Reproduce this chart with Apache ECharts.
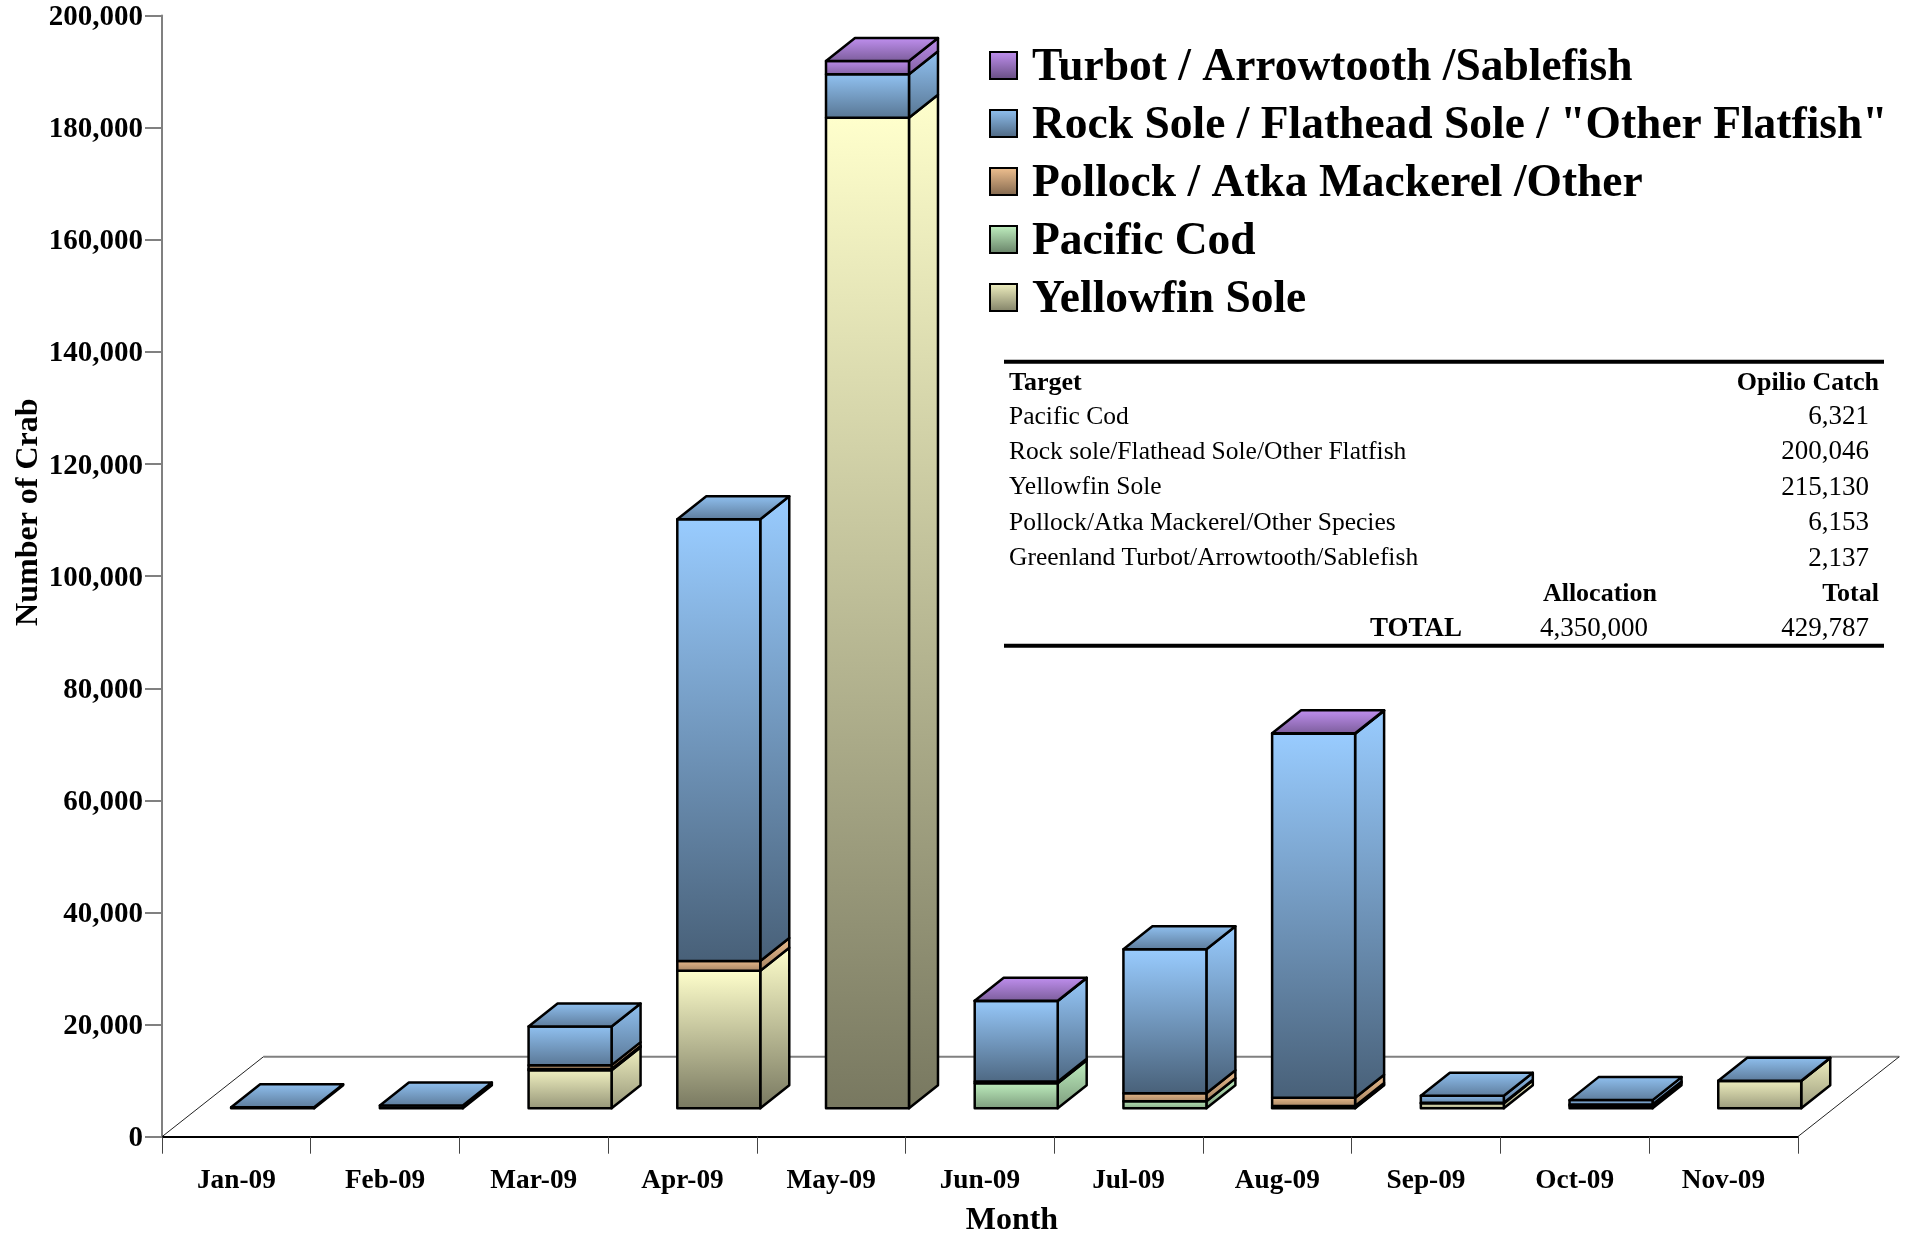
<!DOCTYPE html>
<html>
<head>
<meta charset="utf-8">
<style>html,body{margin:0;padding:0;background:#fff}#c{width:1907px;height:1233px}</style>
<script src="https://cdn.jsdelivr.net/npm/echarts@6/dist/echarts.min.js"></script>
</head>
<body>
<div id="c"></div>
<script>
const categories = ['Jan-09','Feb-09','Mar-09','Apr-09','May-09','Jun-09','Jul-09','Aug-09','Sep-09','Oct-09','Nov-09'];
const seriesNames = ['Yellowfin Sole','Pacific Cod','Pollock / Atka Mackerel /Other','Rock Sole / Flathead Sole / "Other Flatfish"','Turbot / Arrowtooth /Sablefish'];
const yellowfin = [0,0,6800,24550,176720,0,0,100,900,460,4880];
const pacificCod = [0,0,200,0,0,4460,1250,300,0,0,0];
const pollock = [0,0,700,1730,0,300,1426,1500,100,200,0];
const rockSole = [200,500,6900,78790,7750,14400,25690,64900,1250,800,50];
const turbot = [0,0,0,0,2370,40,0,100,0,0,0];
const seriesValues = [yellowfin,pacificCod,pollock,rockSole,turbot];
const tableTargets = ['Pacific Cod','Rock sole/Flathead Sole/Other Flatfish','Yellowfin Sole','Pollock/Atka Mackerel/Other Species','Greenland Turbot/Arrowtooth/Sablefish'];
const tableCatch = ['6,321','200,046','215,130','6,153','2,137'];

const SERIF = '"Liberation Serif","Times New Roman",serif';
const lightColors = [[255,255,204],[204,255,204],[255,204,153],[153,204,255],[204,153,255]];
const DEPTH_X = 29, DEPTH_Y = -23, FRONT_X = 36.3, FRONT_Y = -28.4, FLOOR_X = 101.5, FLOOR_Y = -80;

function shade(c,f){return 'rgb('+c.map(v=>Math.round(v*f)).join(',')+')';}
function grad(c,a,b){return {type:'linear',x:0,y:0,x2:0,y2:1,colorStops:[{offset:0,color:shade(c,a)},{offset:1,color:shade(c,b)}]};}

function segmentRenderer(si){
  const c = lightColors[si];
  return function(params,api){
    const i = api.value(0), v0 = api.value(1), v1 = api.value(2), isTop = api.value(3);
    if(v1<=v0) return null;
    const w = api.size([1,0])[0]*0.558;
    const p0 = api.coord([i,v0]), p1 = api.coord([i,v1]);
    const l = p0[0]+FRONT_X-w/2, r = l+w, b = p0[1]+FRONT_Y, t = p1[1]+FRONT_Y;
    const h = b-t, k = Math.min(1,h/100);
    const fa = 1-0.08*(1-k), fb = 0.47+0.18*(1-k);
    const line = {stroke:'#000',lineWidth:2.5,lineJoin:'round'};
    const children = [
      {type:'polygon',shape:{points:[[r,b],[r+DEPTH_X,b+DEPTH_Y],[r+DEPTH_X,t+DEPTH_Y],[r,t]]},style:Object.assign({fill:grad(c,fa,fb)},line)},
      {type:'polygon',shape:{points:[[l,b],[r,b],[r,t],[l,t]]},style:Object.assign({fill:grad(c,fa,fb)},line)}
    ];
    if(isTop){
      children.push({type:'polygon',shape:{points:[[l,t],[r,t],[r+DEPTH_X,t+DEPTH_Y],[l+DEPTH_X,t+DEPTH_Y]]},style:Object.assign({fill:grad(c,0.95,0.6)},line)});
    }
    return {type:'group',children:children};
  };
}
function floorRenderer(params,api){
  const o = api.coord([0,0]), s = params.coordSys, x0 = s.x, x1 = s.x+s.width, y = o[1];
  return {type:'group',children:[
    {type:'line',shape:{x1:x0+FLOOR_X,y1:y+FLOOR_Y,x2:x1+FLOOR_X,y2:y+FLOOR_Y},style:{stroke:'#808080',lineWidth:2}},
    {type:'line',shape:{x1:x0,y1:y,x2:x0+FLOOR_X,y2:y+FLOOR_Y},style:{stroke:'#222',lineWidth:1}},
    {type:'line',shape:{x1:x1,y1:y,x2:x1+FLOOR_X,y2:y+FLOOR_Y},style:{stroke:'#222',lineWidth:1}}
  ]};
}

const running = categories.map(()=>0);
const series = [{type:'custom',name:'floor',renderItem:floorRenderer,data:[[0,0]],encode:{x:0,y:1},silent:true,clip:false,z:1}];
seriesValues.forEach((vals,si)=>{
  const data = vals.map((v,i)=>{
    const base = running[i]; running[i] += v;
    const above = seriesValues.slice(si+1).some(a=>a[i]>0);
    return [i,base,base+v,above?0:1];
  });
  series.push({type:'custom',name:seriesNames[si],renderItem:segmentRenderer(si),data:data,encode:{x:0,y:2},clip:false,silent:true,z:2,
    itemStyle:{color:shade(lightColors[si],0.8)}});
});

const ROW0 = 381.7, PITCH = 35.35;
function tx(text,x,row,align,font,dy){return {type:'text',z:10,style:{text:text,x:x,y:ROW0+PITCH*row+(dy||0),textAlign:align,textVerticalAlign:'middle',font:font+' '+SERIF,fill:'#000'}};}
const HEAD='bold 26px', BODY='25.5px', NUM='27px';
const graphicEls = [
  {type:'line',z:10,shape:{x1:1004,y1:361.7,x2:1884,y2:361.7},style:{stroke:'#000',lineWidth:4}},
  {type:'line',z:10,shape:{x1:1004,y1:645.7,x2:1884,y2:645.7},style:{stroke:'#000',lineWidth:4}},
  tx('Target',1009,0,'left',HEAD,2),
  tx('Opilio Catch',1879,0,'right',HEAD,2),
  tx('Allocation',1657,6,'right',HEAD),
  tx('Total',1879,6,'right',HEAD),
  tx('TOTAL',1462,7,'right','bold 27px'),
  tx('4,350,000',1648,7,'right',NUM),
  tx('429,787',1869,7,'right',NUM)
];
tableTargets.forEach((n,i)=>{graphicEls.push(tx(n,1009,i+1,'left',BODY));graphicEls.push(tx(tableCatch[i],1869,i+1,'right',NUM));});

const legendData = seriesNames.map((n,i)=>({name:n,icon:'rect',itemStyle:{color:grad(lightColors[i],0.95,0.5),borderColor:'#000',borderWidth:2}})).reverse();

const chart = echarts.init(document.getElementById('c'),null,{renderer:'canvas',width:1907,height:1233});
chart.setOption({
  animation:false,
  backgroundColor:'#fff',
  grid:{left:162,right:109.2,top:15.6,bottom:96.3,containLabel:false,outerBoundsMode:'none'},
  legend:{show:true,orient:'vertical',left:989,top:39.5,padding:0,itemWidth:27,itemHeight:27,itemGap:6,selectedMode:false,
    data:legendData,
    formatter:n=>'{a|'+n+'}',
    textStyle:{fontFamily:SERIF,fontWeight:'bold',fontSize:45.5,color:'#000',
      rich:{a:{fontFamily:SERIF,fontWeight:'bold',fontSize:45.5,color:'#000',padding:[6,0,0,10],lineHeight:42}}}},
  xAxis:{type:'category',data:categories,boundaryGap:true,
    name:'Month',nameLocation:'middle',nameGap:68,
    nameTextStyle:{fontFamily:SERIF,fontWeight:'bold',fontSize:32,color:'#000',padding:[0,0,0,64]},
    axisLine:{show:true,onZero:false,lineStyle:{color:'#000',width:2}},
    axisTick:{show:true,alignWithLabel:false,length:17,lineStyle:{color:'#444',width:1}},
    axisLabel:{fontFamily:SERIF,fontWeight:'bold',fontSize:27.3,color:'#000',margin:30.5,interval:0},
    splitLine:{show:false}},
  yAxis:{type:'value',min:0,max:200000,interval:20000,
    name:'Number of Crab',nameLocation:'middle',nameGap:117,nameRotate:90,nameMoveOverlap:false,
    nameTextStyle:{fontFamily:SERIF,fontWeight:'bold',fontSize:32,color:'#000',padding:[0,0,0,128]},
    axisLine:{show:true,lineStyle:{color:'#808080',width:2}},
    axisTick:{show:true,length:17,lineStyle:{color:'#808080',width:2}},
    axisLabel:{fontFamily:SERIF,fontWeight:'bold',fontSize:29,color:'#000',margin:19,formatter:v=>'{n|'+v.toLocaleString('en-US')+'}',
      rich:{n:{fontFamily:SERIF,fontWeight:'bold',fontSize:29,color:'#000',padding:[4,0,0,0]}}},
    splitLine:{show:false}},
  series:series,
  graphic:{elements:graphicEls}
});
</script>
</body>
</html>
